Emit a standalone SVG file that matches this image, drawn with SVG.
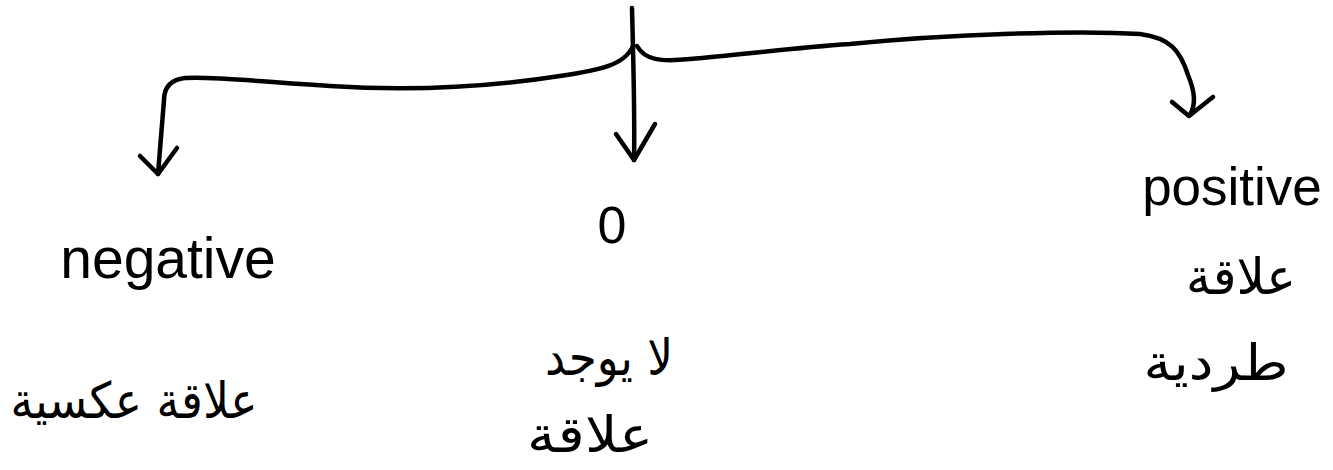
<svg xmlns="http://www.w3.org/2000/svg" width="1333" height="470" viewBox="0 0 1333 470">
<style>
.c{fill:none;stroke:#000;stroke-width:4.5;stroke-linecap:round;stroke-linejoin:round}
.l{font-family:"Liberation Sans","DejaVu Sans",sans-serif;fill:#000;text-anchor:middle}
.a{font-family:"DejaVu Sans","Noto Sans",sans-serif;fill:#000;text-anchor:middle;font-size:50px}
</style>
<rect width="1333" height="470" fill="#fff"/>
<g id="connectors">
<path class="c" d="M632,8 C633,50 635,110 634,160"/>
<path class="c" d="M616,134 L634,160 L655,124"/>
<path class="c" d="M633,46 C625,65 600,70 560,76 C470,90 390,90 330,86 C260,82 215,76 185,78 C168,80 164,90 164,100 L158,174"/>
<path class="c" d="M140,156 L158,174 L177,148"/>
<path class="c" d="M637,46 C645,60 660,62 690,59 C740,55 790,48 850,44 C950,34 1080,30 1140,34 C1170,38 1180,50 1188,75 C1195,92 1196,104 1190,115"/>
<path class="c" d="M1172,102 L1189,116 L1213,97"/>
</g>
<g id="node-negative">
<text class="l" x="168" y="278" font-size="57">negative</text>
<text class="a" x="134" y="418" direction="rtl" textLength="247" lengthAdjust="spacingAndGlyphs">علاقة عكسية</text>
</g>
<g id="node-zero">
<text class="l" x="612" y="243" font-size="52">0</text>
<text class="a" x="609" y="375" direction="rtl" textLength="128" lengthAdjust="spacingAndGlyphs">لا يوجد</text>
<text class="a" x="590" y="452" direction="rtl" textLength="126" lengthAdjust="spacingAndGlyphs">علاقة</text>
</g>
<g id="node-positive">
<text class="l" x="1232" y="205" font-size="53">positive</text>
<text class="a" x="1241" y="294" direction="rtl" textLength="110" lengthAdjust="spacingAndGlyphs">علاقة</text>
<text class="a" x="1216" y="380" direction="rtl" textLength="145" lengthAdjust="spacingAndGlyphs">طردية</text>
</g>
</svg>
